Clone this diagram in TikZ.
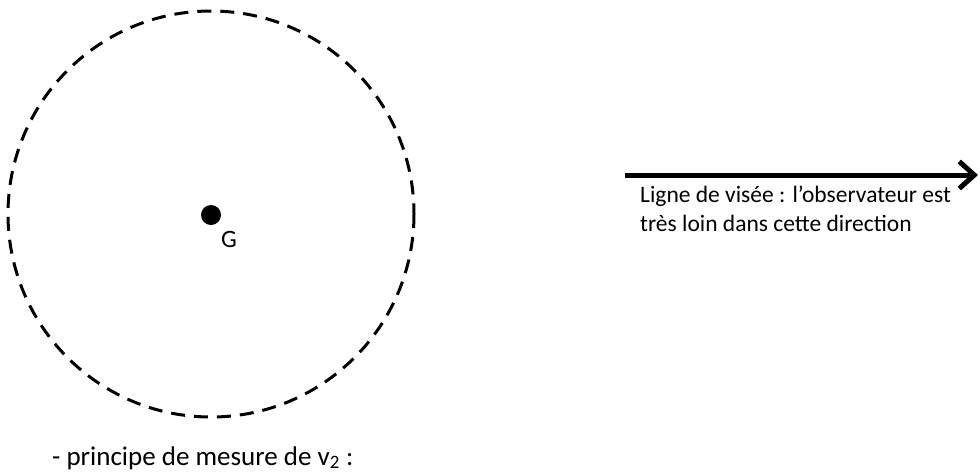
\documentclass[tikz,border=0pt]{standalone}
\usepackage{fontspec}
\setmainfont{Carlito}
\usetikzlibrary{arrows.meta}
\begin{document}
\begin{tikzpicture}[x=1pt,y=-1pt,
  lbl/.style={font=\fontsize{23.5}{29}\selectfont, inner sep=0pt, anchor=base west, align=left}]
\useasboundingbox (0,0) rectangle (980,472);
\draw[line width=3pt, dash pattern=on 14pt off 9pt] (211,214) circle (203);
\node[circle, fill=black, minimum size=20pt, inner sep=0pt] (g) at (211,215) {};
\node[lbl, font=\fontsize{25}{29}\selectfont] (glbl) at (221,247) {G};
\coordinate (s) at (625,175);
\coordinate (e) at (978,175);
\draw[line width=5pt, -{Straight Barb[length=15pt, width=27pt, line width=5pt]}] (s) -- (e);
\node[lbl] (txt) at (640,231) {Ligne de visée : l’observateur est\\très loin dans cette direction};
\node[lbl, font=\fontsize{27}{32}\selectfont] (bottom) at (52,465) {- principe de mesure de v\textsubscript{2} :};
\end{tikzpicture}
\end{document}
